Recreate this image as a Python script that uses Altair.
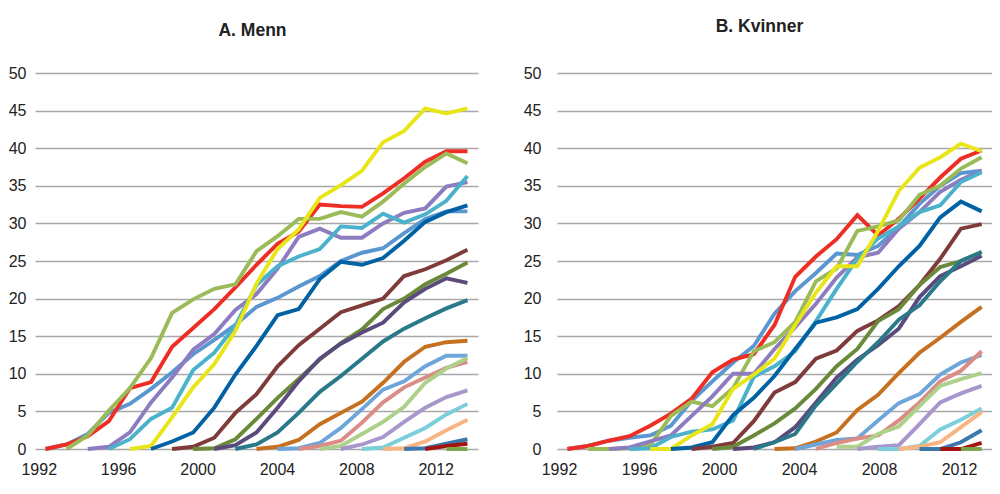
import altair as alt
import pandas as pd

# x positions: 21 observation years, axis tick labels
YEARS = list(range(1993, 2014))
TICK_YEARS = [1992, 1996, 2000, 2004, 2008, 2012]
Y_TICKS = list(range(0, 51, 5))

SERIES = [f"Kohort {k}" for k in range(1, 22)]
COLORS = ["#5A96D0", "#EE2D24", "#9BBB59", "#8E7CC0", "#4BB2CC", "#E8E619",
          "#0062A4", "#7F3B39", "#6A8A3A", "#5B4A7C", "#29798A", "#C5711F",
          "#6EA6DA", "#DB8C86", "#ADD08B", "#A797CC", "#7ACFDA", "#F8B482",
          "#3A78AE", "#A3140F", "#7BA54A"]

N = None
# ---------------- A. Menn ----------------
m01 = [0.0, 0.6, 2.0, 4.8, 6.0, 8.0, 10.2, 12.6, 14.5, 16.5, 18.9, 20.1, 21.6, 23.0, 25.0, 26.1, 26.7, 28.7, 30.6, 31.6, 31.6]
m02 = [0.0, 0.6, 1.7, 3.7, 8.1, 8.9, 13.6, 16.1, 18.6, 21.5, 24.5, 27.3, 28.9, 32.5, 32.3, 32.2, 34.0, 36.0, 38.2, 39.6, 39.6]
m03 = [N, 0.0, 1.8, 5.1, 8.1, 12.1, 18.1, 19.9, 21.3, 21.9, 26.3, 28.3, 30.6, 30.6, 31.5, 30.9, 32.9, 35.3, 37.5, 39.3, 38.0]
m04 = [N, N, 0.0, 0.3, 2.2, 6.2, 9.5, 13.2, 15.3, 18.5, 20.6, 24.0, 28.2, 29.3, 28.1, 28.1, 30.0, 31.4, 32.0, 34.9, 35.5]
m05 = [N, N, N, 0.0, 1.3, 4.0, 5.5, 10.5, 12.8, 16.4, 21.8, 24.3, 25.6, 26.6, 29.6, 29.4, 31.3, 30.1, 31.2, 33.0, 36.3]
m06 = [N, N, N, N, 0.0, 0.4, 4.2, 8.2, 11.3, 15.7, 22.0, 26.6, 29.2, 33.4, 35.1, 37.0, 40.8, 42.3, 45.3, 44.6, 45.3]
m07 = [N, N, N, N, N, 0.0, 1.0, 2.2, 5.5, 9.9, 13.7, 17.8, 18.6, 22.6, 24.9, 24.5, 25.4, 27.7, 30.2, 31.5, 32.4]
m08 = [N, N, N, N, N, N, 0.0, 0.3, 1.5, 4.8, 7.3, 11.0, 13.8, 16.0, 18.2, 19.1, 20.0, 23.0, 23.9, 25.1, 26.5]
m09 = [N, N, N, N, N, N, N, 0.0, 0.1, 1.3, 4.0, 6.8, 9.3, 11.9, 14.1, 15.9, 18.6, 20.0, 21.9, 23.3, 24.8]
m10 = [N, N, N, N, N, N, N, N, 0.0, 0.5, 2.2, 5.5, 9.0, 12.0, 14.0, 15.5, 16.8, 19.5, 21.3, 22.7, 22.1]
m11 = [N, N, N, N, N, N, N, N, N, 0.0, 0.6, 2.2, 4.8, 7.6, 9.7, 12.0, 14.3, 16.0, 17.4, 18.7, 19.8]
m12 = [N, N, N, N, N, N, N, N, N, N, 0.0, 0.3, 1.2, 3.3, 4.8, 6.3, 8.8, 11.6, 13.6, 14.2, 14.4]
m13 = [N, N, N, N, N, N, N, N, N, N, N, 0.0, 0.1, 0.8, 2.8, 5.3, 7.9, 9.0, 11.0, 12.4, 12.4]
m14 = [N, N, N, N, N, N, N, N, N, N, N, N, 0.0, 0.4, 1.1, 3.5, 6.2, 8.2, 9.5, 10.8, 11.6]
m15 = [N, N, N, N, N, N, N, N, N, N, N, N, N, 0.0, 0.4, 2.0, 3.6, 5.6, 8.8, 10.7, 12.1]
m16 = [N, N, N, N, N, N, N, N, N, N, N, N, N, N, 0.0, 0.6, 1.6, 3.6, 5.5, 6.9, 7.8]
m17 = [N, N, N, N, N, N, N, N, N, N, N, N, N, N, N, 0.0, 0.2, 1.5, 2.8, 4.6, 6.0]
m18 = [N, N, N, N, N, N, N, N, N, N, N, N, N, N, N, N, 0.0, 0.1, 1.0, 2.5, 3.9]
m19 = [N, N, N, N, N, N, N, N, N, N, N, N, N, N, N, N, N, 0.0, 0.1, 0.7, 1.3]
m20 = [N, N, N, N, N, N, N, N, N, N, N, N, N, N, N, N, N, N, 0.0, 0.4, 0.7]
m21 = [N, N, N, N, N, N, N, N, N, N, N, N, N, N, N, N, N, N, N, 0.0, 0.0]

# ---------------- B. Kvinner ----------------
k01 = [0.0, 0.4, 1.1, 1.5, 1.8, 3.1, 6.4, 9.0, 11.5, 13.7, 18.0, 21.0, 23.4, 26.0, 25.8, 27.0, 29.5, 32.6, 35.0, 36.7, 37.0]
k02 = [0.0, 0.4, 1.1, 1.7, 3.1, 4.7, 6.7, 10.2, 11.9, 12.6, 16.5, 22.9, 25.6, 27.9, 31.1, 28.4, 30.6, 33.3, 36.1, 38.6, 39.7]
k03 = [N, 0.0, 0.0, 0.1, 0.5, 4.4, 6.3, 5.7, 8.1, 13.0, 14.2, 16.9, 22.3, 24.0, 29.0, 29.6, 30.4, 33.8, 35.0, 37.3, 38.8]
k04 = [N, N, 0.0, 0.2, 1.0, 1.8, 4.4, 7.0, 10.0, 10.0, 13.3, 16.2, 19.3, 22.8, 25.5, 26.1, 29.3, 31.5, 34.2, 35.8, 37.0]
k05 = [N, N, N, 0.0, 0.1, 1.6, 2.3, 2.6, 3.8, 9.6, 11.0, 13.0, 17.0, 21.3, 25.3, 28.0, 29.6, 31.5, 32.4, 35.5, 36.8]
k06 = [N, N, N, N, 0.0, 0.0, 1.8, 3.3, 8.0, 9.9, 12.0, 16.5, 20.8, 24.3, 24.3, 29.0, 34.3, 37.4, 38.8, 40.6, 39.6]
k07 = [N, N, N, N, N, 0.0, 0.2, 0.9, 4.5, 6.8, 9.7, 13.3, 16.8, 17.5, 18.6, 21.3, 24.3, 27.0, 30.8, 32.9, 31.6]
k08 = [N, N, N, N, N, N, 0.0, 0.3, 0.8, 3.7, 7.5, 8.9, 12.0, 13.1, 15.7, 17.1, 19.0, 21.8, 25.3, 29.3, 29.9]
k09 = [N, N, N, N, N, N, N, 0.0, 0.3, 1.8, 3.4, 5.4, 8.0, 11.0, 13.3, 17.0, 18.6, 21.8, 24.2, 25.0, 26.2]
k10 = [N, N, N, N, N, N, N, N, 0.0, 0.2, 0.9, 2.9, 6.2, 9.5, 11.9, 13.8, 16.0, 20.2, 23.0, 24.3, 25.7]
k11 = [N, N, N, N, N, N, N, N, N, 0.0, 0.9, 2.0, 5.8, 8.7, 11.6, 14.2, 17.2, 19.1, 22.3, 25.0, 26.2]
k12 = [N, N, N, N, N, N, N, N, N, N, 0.0, 0.1, 1.0, 2.2, 5.2, 7.2, 10.1, 12.8, 14.8, 16.9, 18.9]
k13 = [N, N, N, N, N, N, N, N, N, N, N, 0.0, 0.6, 1.2, 1.4, 3.8, 6.1, 7.3, 9.9, 11.5, 12.5]
k14 = [N, N, N, N, N, N, N, N, N, N, N, N, 0.0, 0.8, 1.4, 1.8, 3.8, 6.2, 9.0, 10.4, 13.0]
k15 = [N, N, N, N, N, N, N, N, N, N, N, N, N, 0.3, 0.3, 2.0, 3.0, 5.7, 8.4, 9.3, 10.1]
k16 = [N, N, N, N, N, N, N, N, N, N, N, N, N, N, 0.0, 0.3, 0.5, 3.3, 6.2, 7.4, 8.4]
k17 = [N, N, N, N, N, N, N, N, N, N, N, N, N, N, N, 0.0, 0.0, 0.4, 2.6, 3.9, 5.4]
k18 = [N, N, N, N, N, N, N, N, N, N, N, N, N, N, N, N, 0.0, 0.3, 0.9, 2.9, 4.9]
k19 = [N, N, N, N, N, N, N, N, N, N, N, N, N, N, N, N, N, 0.0, 0.0, 0.9, 2.5]
k20 = [N, N, N, N, N, N, N, N, N, N, N, N, N, N, N, N, N, N, 0.0, 0.0, 0.8]
k21 = [N, N, N, N, N, N, N, N, N, N, N, N, N, N, N, N, N, N, N, 0.0, 0.0]

MENN = [m01, m02, m03, m04, m05, m06, m07, m08, m09, m10, m11,
        m12, m13, m14, m15, m16, m17, m18, m19, m20, m21]
KVINNER = [k01, k02, k03, k04, k05, k06, k07, k08, k09, k10, k11,
           k12, k13, k14, k15, k16, k17, k18, k19, k20, k21]

FONT = "Liberation Sans"
TXT = "#222222"


def to_frame(series_values):
    rows = []
    for name, vals in zip(SERIES, series_values):
        for yr, v in zip(YEARS, vals):
            if v is not None:
                rows.append({"serie": name, "aar": yr, "andel": v})
    return pd.DataFrame(rows)


def panel(title, series_values, width, ypad, label_domain, title_dx, title_offset):
    df = to_frame(series_values)
    lines = alt.Chart(df).mark_line(strokeWidth=3.9).encode(
        x=alt.X("aar:Q",
                scale=alt.Scale(domain=[YEARS[0] - 0.5, YEARS[-1] + 0.5], nice=False, zero=False),
                axis=None),
        y=alt.Y("andel:Q",
                scale=alt.Scale(domain=[0, 50], nice=False),
                axis=alt.Axis(values=Y_TICKS, title=None, grid=True, domain=False, ticks=False,
                              labelPadding=ypad, labelFont=FONT, labelFontSize=16,
                              labelColor=TXT, gridColor="#A8A8A8", gridWidth=1.3)),
        color=alt.Color("serie:N", scale=alt.Scale(domain=SERIES, range=COLORS), legend=None),
        detail="serie:N",
    )
    ticks_df = pd.DataFrame({"aar": TICK_YEARS})
    axis_layer = alt.Chart(ticks_df).mark_point(opacity=0).encode(
        x=alt.X("aar:Q",
                scale=alt.Scale(domain=label_domain, nice=False, zero=False),
                axis=alt.Axis(values=TICK_YEARS, format="d", title=None, grid=False,
                              domain=False, ticks=False, labelPadding=12, orient="bottom",
                              labelFlush=False, labelOverlap=False,
                              labelFont=FONT, labelFontSize=16, labelColor=TXT)),
    )
    return alt.layer(lines, axis_layer).resolve_scale(x="independent").properties(
        width=width, height=376,
        title=alt.TitleParams(title, font=FONT, fontSize=17.5, fontWeight="bold", color=TXT,
                              anchor="middle", frame="group", dx=title_dx,
                              offset=title_offset, baseline="alphabetic"),
    )


left = panel("A. Menn", MENN, 443, 9, [1991.81, 2014.13], -4, 12)
right = panel("B. Kvinner", KVINNER, 435, 16, [1991.9, 2013.65], -15, 16)

chart = alt.hconcat(left, right, spacing=45).properties(
    padding={"left": 0, "top": 9, "right": 0, "bottom": 0}
).configure_view(stroke=None)

chart.save("out.html", embed_options={"renderer": "svg", "actions": False})
